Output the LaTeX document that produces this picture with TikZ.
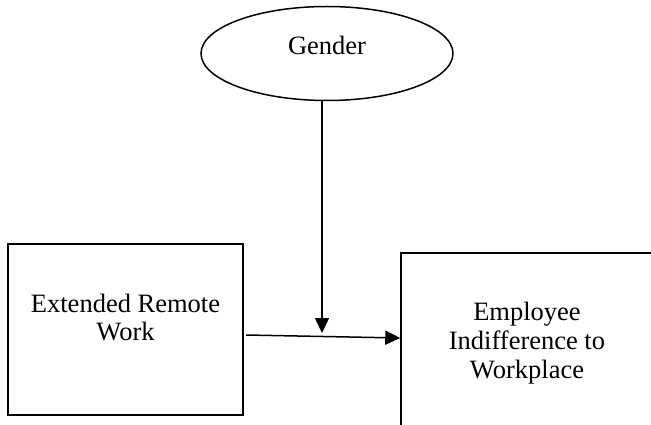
\documentclass[tikz,border=0pt]{standalone}
\usepackage{fontspec}
\setmainfont{Liberation Serif}
\usetikzlibrary{arrows.meta,shapes.geometric}
\tikzset{
  box/.style={draw, line width=1.5pt, rectangle, inner sep=0pt},
  oval/.style={draw, line width=1.5pt, ellipse, inner sep=0pt},
  lbl/.style={font=\fontsize{26.5}{29}\selectfont, inner sep=0pt, anchor=base},
  arr/.style={line width=1.5pt, -{Triangle[length=15pt,width=14pt]}}
}
\begin{document}
\begin{tikzpicture}[x=1pt,y=-1pt]
\useasboundingbox (0,0) rectangle (651,425);
\clip (0,0) rectangle (651,425);
\fill[white] (0,0) rectangle (651,425);
% nodes
\node[oval, minimum width=252pt, minimum height=94pt] (gender) at (327,53.5) {};
\node[lbl] (gtxt) at (327,55) {Gender};
\node[box, minimum width=235pt, minimum height=171pt] (erw) at (125.5,329.5) {};
\node[lbl] (erw1) at (125.5,312) {Extended Remote};
\node[lbl] (erw2) at (125.5,340) {Work};
\node[box, minimum width=252pt, minimum height=176pt] (emp) at (527,341) {};
\node[lbl] (emp1) at (527,320) {Employee};
\node[lbl] (emp2) at (527,349) {Indifference to};
\node[lbl] (emp3) at (527,378) {Workplace};
% connectors
\coordinate (hs) at (246,335);
\coordinate (he) at (401,338);
\coordinate (mod) at (322,333);
\draw[arr] (hs) -- (emp.west |- he);
\draw[arr] (gender.south -| mod) -- (mod);
\end{tikzpicture}
\end{document}
